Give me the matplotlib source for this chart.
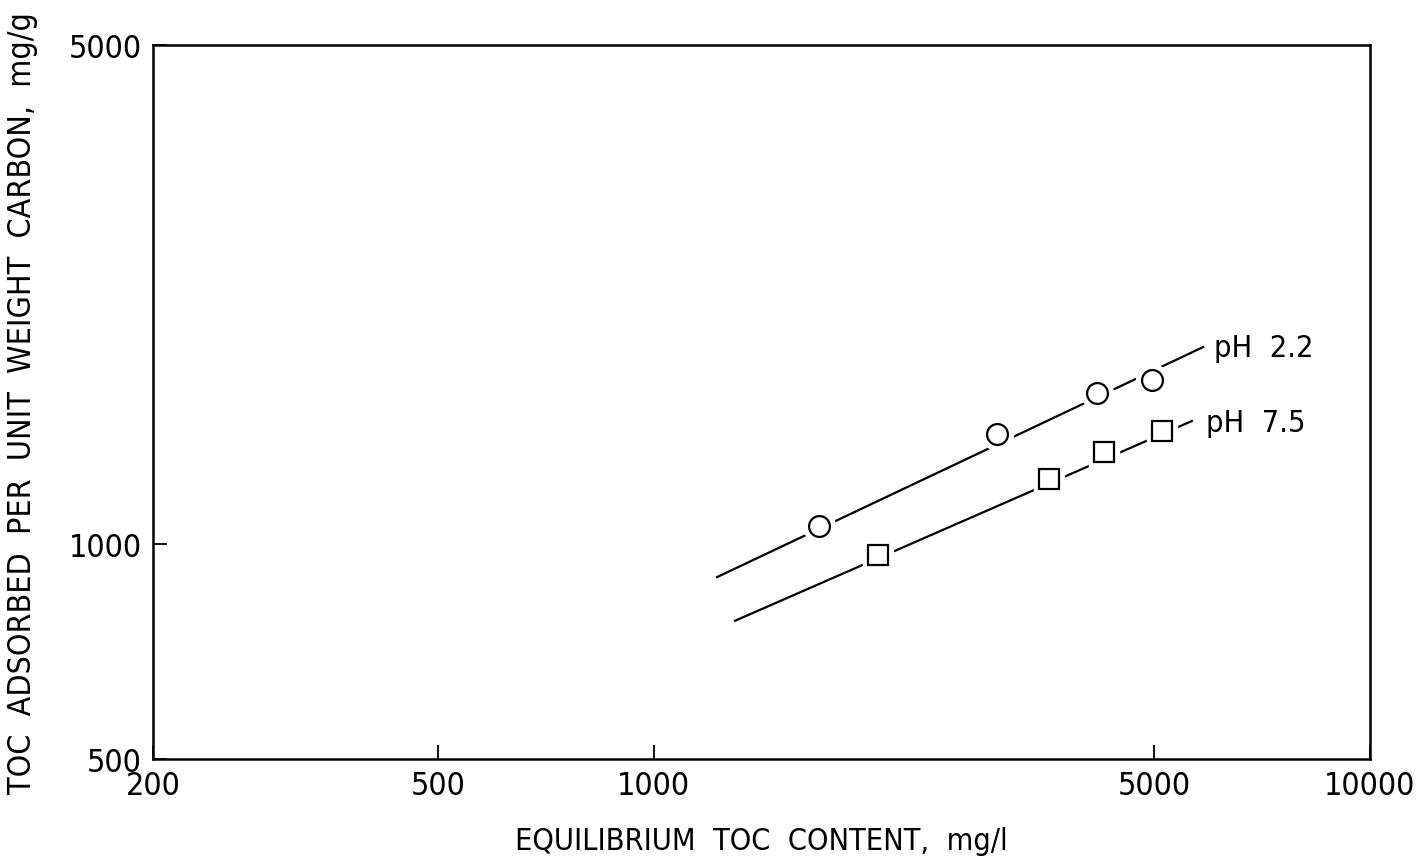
import numpy as np
import matplotlib
matplotlib.use("Agg")
import matplotlib.pyplot as plt
from matplotlib.ticker import FixedLocator, FixedFormatter, NullLocator

plt.rcParams['font.family'] = ['DejaVu Sans']
plt.rcParams['font.stretch'] = 'condensed'

# measured points (equilibrium TOC mg/l, TOC adsorbed mg/g)
ph22_x = [1700, 3020, 4160, 4960]
ph22_y = [1060, 1426, 1628, 1698]
ph75_x = [2060, 3560, 4250, 5120]
ph75_y = [966, 1233, 1346, 1440]

# isotherm fit lines (end points)
fit22_x = [1226, 5850]
fit22_y = [899, 1888]
fit75_x = [1299, 5640]
fit75_y = [781, 1487]

xticks_v = [200, 500, 1000, 5000, 10000]
yticks_v = [500, 1000, 5000]

fig = plt.figure(figsize=(14.22, 8.62), dpi=100)
ax = fig.add_axes([0.1076, 0.1183, 0.8558, 0.8283])
ax.set_xscale('log')
ax.set_yscale('log')
ax.set_xlim(200, 10000)
ax.set_ylim(500, 5000)

# fit lines
ax.plot(fit22_x, fit22_y, color='black', lw=1.6, zorder=2)
ax.plot(fit75_x, fit75_y, color='black', lw=1.6, zorder=2)

# white halo so the line breaks around each marker
ax.plot(ph22_x, ph22_y, 'o', ms=23, mfc='white', mec='white', zorder=3)
ax.plot(ph75_x, ph75_y, 's', ms=22, mfc='white', mec='white', zorder=3)
ax.plot(ph22_x, ph22_y, 'o', ms=15, mfc='white', mec='black', mew=1.6, zorder=4)
ax.plot(ph75_x, ph75_y, 's', ms=14, mfc='white', mec='black', mew=1.6, zorder=4)

# line labels
ax.text(6050, fit22_y[1], 'pH  2.2', fontsize=22, va='center', ha='left')
ax.text(5900, 1480, 'pH  7.5', fontsize=22, va='center', ha='left')

ax.xaxis.set_major_locator(FixedLocator(xticks_v))
ax.xaxis.set_major_formatter(FixedFormatter([str(v) for v in xticks_v]))
ax.yaxis.set_major_locator(FixedLocator(yticks_v))
ax.yaxis.set_major_formatter(FixedFormatter([str(v) for v in yticks_v]))
ax.xaxis.set_minor_locator(NullLocator())
ax.yaxis.set_minor_locator(NullLocator())
ax.tick_params(direction='in', length=10, width=1.3, labelsize=23, pad=8)

for s in ax.spines.values():
    s.set_linewidth(1.8)

ax.set_xlabel('EQUILIBRIUM  TOC  CONTENT,  mg/l', fontsize=22, labelpad=18)
ax.set_ylabel('TOC  ADSORBED  PER  UNIT  WEIGHT  CARBON,  mg/g', fontsize=23, labelpad=22)

fig.savefig('out.png', dpi=100)
